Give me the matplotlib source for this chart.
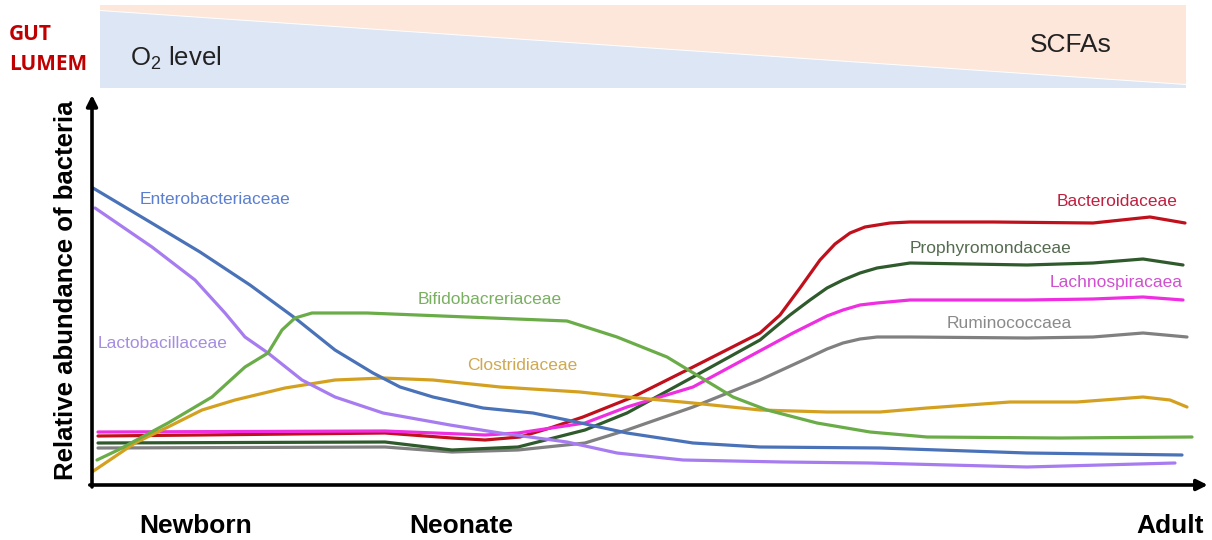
import matplotlib
matplotlib.use("Agg")
import matplotlib.pyplot as plt
from matplotlib.patches import Polygon

plt.rcParams['font.family'] = ['Liberation Sans', 'DejaVu Sans']

# age axis (arbitrary units, newborn -> adult) and relative abundance readings
entero_x = [1, 58, 108, 158, 203, 243, 281, 308, 341, 391, 441, 475, 535, 601, 668, 788, 935, 1090]
entero_y = [297, 263, 233, 200, 167, 135, 112, 98, 88, 77, 72, 65, 52, 42, 38, 37, 32, 30]

lacto_x = [3, 60, 103, 133, 153, 176, 210, 243, 291, 358, 408, 475, 525, 591, 691, 778, 935, 1083]
lacto_y = [277, 238, 205, 172, 148, 132, 105, 88, 72, 60, 52, 43, 32, 25, 23, 22, 18, 22]

bifido_x = [5, 26, 76, 120, 153, 176, 190, 203, 220, 275, 375, 475, 525, 575, 608, 641, 675, 725, 778, 835, 968, 1100]
bifido_y = [25, 35, 62, 88, 118, 132, 155, 167, 172, 172, 168, 164, 148, 128, 108, 88, 75, 62, 53, 48, 47, 48]

clost_x = [0, 43, 76, 110, 143, 193, 243, 291, 341, 408, 488, 535, 601, 668, 735, 788, 835, 918, 985, 1051, 1078, 1095]
clost_y = [13, 42, 58, 75, 85, 97, 105, 107, 105, 98, 93, 88, 82, 75, 73, 73, 77, 83, 83, 88, 85, 78]

bacter_x = [6, 108, 293, 360, 393, 428, 458, 491, 541, 601, 668, 688, 708, 728, 743, 758, 773, 798, 818, 901, 1001, 1058, 1093]
bacter_y = [49, 50, 52, 47, 45, 48, 57, 68, 88, 118, 152, 170, 197, 225, 241, 252, 258, 262, 263, 263, 262, 268, 262]

prophy_x = [6, 293, 360, 426, 493, 535, 601, 668, 698, 718, 735, 751, 768, 785, 818, 935, 1001, 1051, 1091]
prophy_y = [42, 43, 35, 38, 55, 72, 108, 145, 170, 185, 197, 205, 212, 217, 222, 220, 222, 226, 220]

lachno_x = [6, 293, 393, 426, 493, 535, 601, 651, 701, 735, 751, 768, 785, 818, 935, 1001, 1051, 1091]
lachno_y = [53, 54, 50, 52, 62, 78, 98, 125, 152, 169, 175, 180, 182, 185, 185, 186, 188, 185]

rumino_x = [6, 293, 360, 426, 493, 535, 601, 668, 718, 735, 751, 768, 785, 818, 935, 1001, 1051, 1095]
rumino_y = [37, 38, 33, 35, 42, 55, 78, 105, 128, 136, 142, 146, 148, 148, 147, 148, 152, 148]

stages = ['Newborn', 'Neonate', 'Adult']

fig = plt.figure(figsize=(12.12, 5.4), dpi=100)

# background layer in pixel units for the gradient band and free text
bg = fig.add_axes([0, 0, 1, 1])
bg.set_xlim(0, 1212)
bg.set_ylim(540, 0)
bg.axis('off')

bg.add_patch(Polygon([(100, 5), (1186, 5), (1186, 84), (100, 10)], closed=True,
                     facecolor='#fde7da', edgecolor='none'))
bg.add_patch(Polygon([(100, 11), (1186, 85), (1186, 88), (100, 88)], closed=True,
                     facecolor='#dde6f5', edgecolor='none'))
bg.text(130, 58, r'O$_\mathregular{2}$ level', fontsize=18.5, va='center', ha='left', color='#222222')
bg.text(1030, 45, 'SCFAs', fontsize=19, va='center', ha='left', color='#222222')
bg.text(9, 34, 'GUT', fontsize=15, fontweight='bold', color='#c00000', va='center', ha='left',
        family=['Open Sans', 'DejaVu Sans'])
bg.text(9, 64, 'LUMEM', fontsize=15, fontweight='bold', color='#c00000', va='center', ha='left',
        family=['Open Sans', 'DejaVu Sans'])
bg.text(66, 290, 'Relative abundance of bacteria', rotation=90, fontsize=18.5, fontweight='bold',
        va='center', ha='center')
for name, px in zip(stages, [196, 461, 1170]):
    bg.text(px, 526, name, fontsize=19, fontweight='bold', ha='center', va='center')

ax = fig.add_axes([92 / 1212, 55 / 540, 1108 / 1212, 390 / 540])
ax.patch.set_alpha(0)
ax.set_xlim(0, 1108)
ax.set_ylim(0, 390)
for s in ax.spines.values():
    s.set_visible(False)
ax.set_xticks([])
ax.set_yticks([])

ax.annotate('', xy=(0, 1.0), xytext=(0, -0.005), xycoords='axes fraction',
            arrowprops=dict(arrowstyle='-|>', lw=2.6, color='black', mutation_scale=16,
                            shrinkA=0, shrinkB=0))
ax.annotate('', xy=(1.007, 0), xytext=(-0.002, 0), xycoords='axes fraction',
            arrowprops=dict(arrowstyle='-|>', lw=2.6, color='black', mutation_scale=16,
                            shrinkA=0, shrinkB=0))

style = dict(lw=2.3, solid_joinstyle='round', solid_capstyle='round')
ax.plot(rumino_x, rumino_y, color='#808080', **style)
ax.plot(prophy_x, prophy_y, color='#2f5a2c', **style)
ax.plot(bacter_x, bacter_y, color='#c0101c', **style)
ax.plot(lachno_x, lachno_y, color='#ee2ee0', **style)
ax.plot(clost_x, clost_y, color='#d4a020', **style)
ax.plot(lacto_x, lacto_y, color='#a77cf0', **style)
ax.plot(entero_x, entero_y, color='#4a72b8', **style)
ax.plot(bifido_x, bifido_y, color='#6aac48', **style)

fs = 12.5
ax.text(48, 285, 'Enterobacteriaceae', color='#5b7fd0', fontsize=fs, va='center')
ax.text(6, 141, 'Lactobacillaceae', color='#a58de0', fontsize=fs, va='center')
ax.text(326, 186, 'Bifidobacreriaceae', color='#78b060', fontsize=fs, va='center')
ax.text(375, 120, 'Clostridiaceae', color='#d0a850', fontsize=fs, va='center')
ax.text(965, 284, 'Bacteroidaceae', color='#c02040', fontsize=fs, va='center')
ax.text(818, 237, 'Prophyromondaceae', color='#556b50', fontsize=fs, va='center')
ax.text(958, 203, 'Lachnospiracaea', color='#d050d0', fontsize=fs, va='center')
ax.text(855, 162, 'Ruminococcaea', color='#8a8a8a', fontsize=fs, va='center')

fig.savefig('out.png', dpi=100)
